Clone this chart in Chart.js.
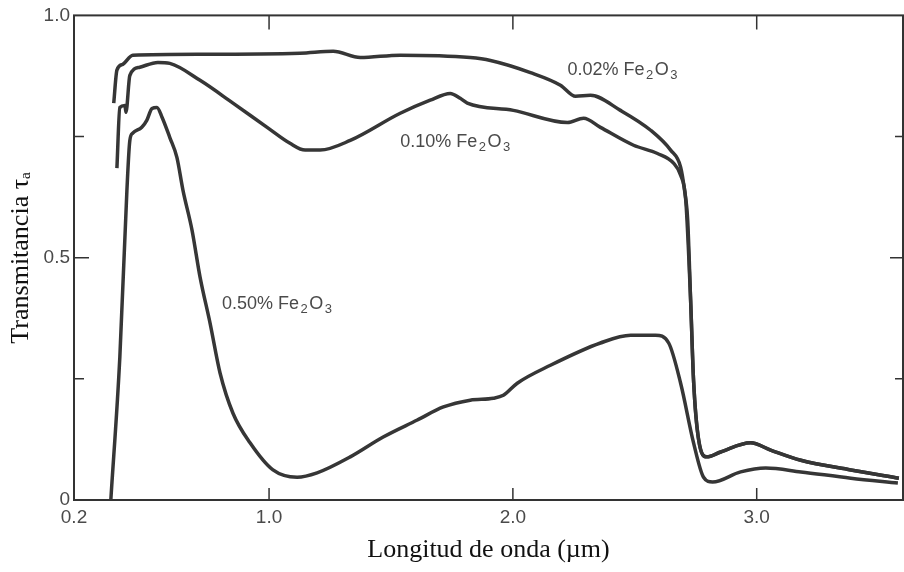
<!DOCTYPE html>
<html>
<head>
<meta charset="utf-8">
<script src="https://cdn.jsdelivr.net/npm/chart.js@4.4.1/dist/chart.umd.min.js"></script>
<style>
  body { margin: 0; background: #fff; }
  canvas { display: block; }
</style>
</head>
<body>
<canvas id="chart" width="904" height="572"></canvas>
<script>
// Wavelength (um) and transmittance, one pair of arrays per curve
const wl002 = [0.363, 0.376, 0.400, 0.441, 0.717, 1.127, 1.263, 1.374, 1.538, 1.825, 1.908, 2.072, 2.195, 2.257, 2.318, 2.441, 2.565, 2.647, 2.688, 2.704, 2.717, 2.729, 2.741, 2.762, 2.795, 2.852, 2.975, 3.057, 3.181, 3.386, 3.583];
const t002 = [0.819, 0.887, 0.899, 0.918, 0.920, 0.922, 0.926, 0.913, 0.918, 0.913, 0.907, 0.882, 0.856, 0.833, 0.835, 0.804, 0.763, 0.722, 0.687, 0.639, 0.577, 0.412, 0.247, 0.124, 0.089, 0.099, 0.118, 0.103, 0.082, 0.062, 0.045];

const wl010 = [0.376, 0.388, 0.409, 0.413, 0.429, 0.470, 0.544, 0.593, 0.717, 0.852, 0.992, 1.086, 1.148, 1.209, 1.333, 1.538, 1.661, 1.743, 1.784, 1.813, 2.002, 2.224, 2.290, 2.359, 2.495, 2.593, 2.659, 2.688, 2.709, 2.729, 2.741, 2.762, 2.795, 2.852, 2.975, 3.057, 3.181, 3.386, 3.583];
const t010 = [0.685, 0.810, 0.814, 0.800, 0.876, 0.893, 0.903, 0.901, 0.866, 0.819, 0.769, 0.736, 0.722, 0.722, 0.742, 0.798, 0.825, 0.839, 0.829, 0.819, 0.804, 0.779, 0.788, 0.769, 0.732, 0.715, 0.695, 0.670, 0.619, 0.412, 0.247, 0.124, 0.089, 0.099, 0.118, 0.103, 0.082, 0.062, 0.045];

const wl050 = [0.351, 0.388, 0.417, 0.429, 0.441, 0.478, 0.499, 0.520, 0.540, 0.561, 0.593, 0.622, 0.647, 0.684, 0.717, 0.758, 0.799, 0.852, 0.922, 1.016, 1.115, 1.197, 1.333, 1.468, 1.608, 1.715, 1.825, 1.920, 1.961, 2.018, 2.154, 2.359, 2.483, 2.585, 2.639, 2.688, 2.741, 2.782, 2.819, 2.934, 3.037, 3.181, 3.386, 3.579];
const t050 = [0.000, 0.295, 0.639, 0.742, 0.757, 0.769, 0.784, 0.808, 0.810, 0.790, 0.748, 0.707, 0.639, 0.557, 0.460, 0.365, 0.262, 0.179, 0.118, 0.062, 0.047, 0.056, 0.089, 0.130, 0.165, 0.192, 0.206, 0.210, 0.216, 0.241, 0.278, 0.324, 0.340, 0.340, 0.324, 0.241, 0.118, 0.047, 0.037, 0.058, 0.066, 0.058, 0.045, 0.035];

// Axis ticks
const xTicks = [0.2, 1.0, 2.0, 3.0];
const xTickLabels = ['0.2', '1.0', '2.0', '3.0'];
const yTicks = [0, 0.5, 1.0];
const yTickLabels = ['0', '0.5', '1.0'];
const yMinorTicks = [0.25, 0.75];

const lineColor = '#363636';
const textColor = '#4a4a4a';

function toPoints(xs, ys) {
    return xs.map((v, i) => ({ x: v, y: ys[i] }));
}

function curve(label, xs, ys) {
    return {
        label: label,
        data: toPoints(xs, ys),
        borderColor: lineColor,
        borderWidth: 3.5,
        pointRadius: 0,
        fill: false,
        cubicInterpolationMode: 'monotone'
    };
}

// Draw "0.02% Fe2O3" style labels with subscripts
function drawChem(ctx, x, y, text, sub1, sub2) {
    const big = '18px "Liberation Sans", Arial, sans-serif';
    const small = '13px "Liberation Sans", Arial, sans-serif';
    const parts = [[text, big, 0], [sub1, small, 4], ['O', big, 0], [sub2, small, 4]];
    let cx = x;
    parts.forEach(p => {
        ctx.font = p[1];
        ctx.fillText(p[0], cx, y + p[2]);
        cx += ctx.measureText(p[0]).width + 1.5;
    });
}

// Box frame, inward tick marks and curve labels
const framePlugin = {
    id: 'frame',
    afterDraw(chart) {
        const { ctx, chartArea: a, scales } = chart;
        const x = scales.x, y = scales.y;
        ctx.save();
        ctx.strokeStyle = '#333';
        ctx.lineWidth = 2;
        ctx.strokeRect(a.left, a.top, a.right - a.left, a.bottom - a.top);

        ctx.lineWidth = 1.5;
        ctx.beginPath();
        xTicks.slice(1).forEach(v => {
            const px = x.getPixelForValue(v);
            ctx.moveTo(px, a.bottom);
            ctx.lineTo(px, a.bottom - 12);
            ctx.moveTo(px, a.top);
            ctx.lineTo(px, a.top + 14);
        });
        [0.5].concat(yMinorTicks).forEach(v => {
            const py = y.getPixelForValue(v);
            const len = v === 0.5 ? 15 : 10;
            ctx.moveTo(a.left, py);
            ctx.lineTo(a.left + len, py);
            ctx.moveTo(a.right, py);
            ctx.lineTo(a.right - len + 2, py);
        });
        ctx.stroke();

        ctx.fillStyle = textColor;
        ctx.textBaseline = 'alphabetic';
        ctx.textAlign = 'left';
        drawChem(ctx, x.getPixelForValue(2.224), y.getPixelForValue(0.876), '0.02% Fe', '2', '3');
        drawChem(ctx, x.getPixelForValue(1.538), y.getPixelForValue(0.728), '0.10% Fe', '2', '3');
        drawChem(ctx, x.getPixelForValue(0.807), y.getPixelForValue(0.394), '0.50% Fe', '2', '3');
        ctx.restore();
    }
};

const tickFont = { family: '"Liberation Sans", Arial, sans-serif', size: 19 };
const titleFont = { family: '"Liberation Serif", "DejaVu Serif", serif', size: 26 };

new Chart(document.getElementById('chart').getContext('2d'), {
    type: 'line',
    data: {
        datasets: [
            curve('0.02% Fe2O3', wl002, t002),
            curve('0.10% Fe2O3', wl010, t010),
            curve('0.50% Fe2O3', wl050, t050)
        ]
    },
    options: {
        responsive: false,
        animation: false,
        layout: { padding: { top: 15, right: 1, left: 0, bottom: 0 } },
        plugins: {
            legend: { display: false },
            tooltip: { enabled: false }
        },
        scales: {
            x: {
                type: 'linear',
                min: 0.2,
                max: 3.6,
                afterBuildTicks: scale => { scale.ticks = xTicks.map(v => ({ value: v })); },
                afterFit: scale => { scale.height = 72; },
                grid: { display: false, drawTicks: false },
                border: { display: false },
                ticks: {
                    padding: 6,
                    color: textColor,
                    font: tickFont,
                    maxRotation: 0,
                    callback: value => xTickLabels[xTicks.indexOf(value)]
                },
                title: {
                    display: true,
                    text: 'Longitud de onda (µm)',
                    color: '#111',
                    font: titleFont,
                    padding: { top: 0, bottom: 6 }
                }
            },
            y: {
                min: 0,
                max: 1,
                afterBuildTicks: scale => { scale.ticks = yTicks.map(v => ({ value: v })); },
                afterFit: scale => { scale.width = 74; },
                grid: { display: false, drawTicks: false },
                border: { display: false },
                ticks: {
                    padding: 4,
                    color: textColor,
                    font: tickFont,
                    callback: value => yTickLabels[yTicks.indexOf(value)]
                },
                title: {
                    display: true,
                    text: 'Transmitancia τₐ',
                    color: '#111',
                    font: titleFont,
                    padding: { top: 6, bottom: 0 }
                }
            }
        }
    },
    plugins: [framePlugin]
});
</script>
</body>
</html>
